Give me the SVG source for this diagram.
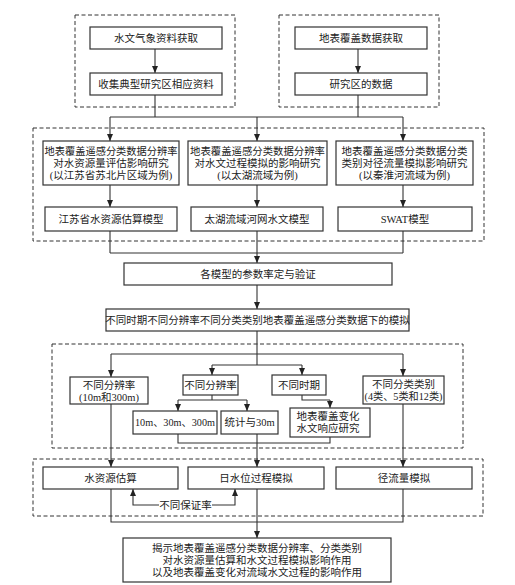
<svg xmlns="http://www.w3.org/2000/svg" width="515" height="585" viewBox="0 0 515 585">
<style>
.bg{fill:#fff}
.grp{fill:none;stroke:#333;stroke-width:1;stroke-dasharray:4 2.5}
.box{fill:#fff;stroke:#333;stroke-width:1.2}
.ln{fill:none;stroke:#333;stroke-width:1.1}
.arr{marker-end:url(#ah)}
text{font-family:"Liberation Serif","Noto Sans CJK SC",serif;font-size:10.5px;fill:#222;text-anchor:middle}
</style>
<defs>
<marker id="ah" markerUnits="userSpaceOnUse" markerWidth="7" markerHeight="6" refX="7" refY="3" orient="auto">
<path d="M0,0 L7,3 L0,6 z" fill="#222"/>
</marker>
</defs>
<rect class="bg" x="0" y="0" width="515" height="585"/>

<g id="groups">
<rect class="grp" x="75" y="15" width="160" height="92"/>
<rect class="grp" x="279" y="15" width="160" height="92"/>
<rect class="grp" x="33" y="128" width="451" height="113"/>
<rect class="grp" x="52" y="344" width="411" height="104"/>
<rect class="grp" x="33" y="459" width="450" height="57"/>
</g>

<g id="connectors">
<path class="ln arr" d="M155,49 V73"/>
<path class="ln arr" d="M358,49 V73"/>
<path class="ln" d="M155,95 V117 M358,95 V117 M110,117 H403"/>
<path class="ln arr" d="M110,117 V141"/>
<path class="ln arr" d="M257,117 V141"/>
<path class="ln arr" d="M403,117 V141"/>
<path class="ln arr" d="M110,185 V207"/>
<path class="ln arr" d="M257,185 V207"/>
<path class="ln arr" d="M403,185 V207"/>
<path class="ln" d="M110,231 V253 M403,231 V253 M257,231 V253 M110,253 H403"/>
<path class="ln arr" d="M257,253 V263"/>
<path class="ln arr" d="M257,285 V309"/>
<path class="ln" d="M257,331 V365 M111,354 H403 M212,365 H302"/>
<path class="ln arr" d="M111,354 V377"/>
<path class="ln arr" d="M403,354 V376"/>
<path class="ln arr" d="M212,365 V375"/>
<path class="ln arr" d="M302,365 V375"/>
<path class="ln" d="M212,395 V400 M178,400 H247"/>
<path class="ln arr" d="M178,400 V411"/>
<path class="ln arr" d="M247,400 V411"/>
<path class="ln" d="M302,395 V400 H330"/>
<path class="ln arr" d="M330,400 V408"/>
<path class="ln" d="M178,434 V443 H330 V437"/>
<path class="ln arr" d="M257,434 V467"/>
<path class="ln arr" d="M111,404 V467"/>
<path class="ln arr" d="M403,404 V467"/>
<path class="ln arr" d="M159,505 H133 V489"/>
<path class="ln arr" d="M212,505 H235 V489"/>
<path class="ln" d="M111,489 V522 H403 V489"/>
<path class="ln arr" d="M257,489 V538"/>
</g>

<g id="n1"><rect class="box" x="90" y="27" width="132" height="22"/><text x="156" y="42">水文气象资料获取</text></g>
<g id="n2"><rect class="box" x="90" y="73" width="132" height="22"/><text x="156" y="88">收集典型研究区相应资料</text></g>
<g id="n3"><rect class="box" x="295" y="27" width="132" height="22"/><text x="361" y="42">地表覆盖数据获取</text></g>
<g id="n4"><rect class="box" x="295" y="73" width="132" height="22"/><text x="361" y="88">研究区的数据</text></g>

<g id="b1"><rect class="box" x="43" y="141" width="136" height="44"/>
<text x="111" y="155" textLength="133" lengthAdjust="spacingAndGlyphs">地表覆盖遥感分类数据分辨率</text>
<text x="111" y="167">对水资源量评估影响研究</text>
<text x="111" y="179">(以江苏省苏北片区域为例)</text></g>
<g id="b2"><rect class="box" x="188" y="141" width="139" height="44"/>
<text x="257.5" y="155" textLength="135" lengthAdjust="spacingAndGlyphs">地表覆盖遥感分类数据分辨率</text>
<text x="257.5" y="167">对水文过程模拟的影响研究</text>
<text x="257.5" y="179">(以太湖流域为例)</text></g>
<g id="b3"><rect class="box" x="336" y="141" width="137" height="44"/>
<text x="404.5" y="155">地表覆盖遥感分类数据分类</text>
<text x="404.5" y="167">类别对径流量模拟影响研究</text>
<text x="404.5" y="179">(以秦淮河流域为例)</text></g>

<g id="m1"><rect class="box" x="45" y="207" width="132" height="24"/><text x="111" y="223">江苏省水资源估算模型</text></g>
<g id="m2"><rect class="box" x="191" y="207" width="132" height="24"/><text x="257" y="223">太湖流域河网水文模型</text></g>
<g id="m3"><rect class="box" x="338" y="207" width="134" height="24"/><text x="405" y="223">SWAT模型</text></g>

<g id="p1"><rect class="box" x="124" y="263" width="268" height="22"/><text x="258" y="278">各模型的参数率定与验证</text></g>
<g id="p2"><rect class="box" x="106" y="309" width="303" height="22"/><text x="257.5" y="324">不同时期不同分辨率不同分类类别地表覆盖遥感分类数据下的模拟</text></g>

<g id="r1"><rect class="box" x="70" y="377" width="78" height="27"/>
<text x="109" y="388.5">不同分辨率</text><text x="109" y="400.5">(10m和300m)</text></g>
<g id="r2"><rect class="box" x="183" y="375" width="55" height="20"/><text x="210.5" y="389">不同分辨率</text></g>
<g id="r3"><rect class="box" x="272" y="375" width="54" height="20"/><text x="299" y="389">不同时期</text></g>
<g id="r4"><rect class="box" x="363" y="376" width="81" height="28"/>
<text x="403.5" y="388">不同分类类别</text><text x="403.5" y="400" textLength="78" lengthAdjust="spacingAndGlyphs">(4类、5类和12类)</text></g>
<g id="s1"><rect class="box" x="133" y="411" width="84" height="23"/><text x="175" y="426" textLength="80" lengthAdjust="spacingAndGlyphs">10m、30m、300m</text></g>
<g id="s2"><rect class="box" x="221" y="411" width="57" height="23"/><text x="249.5" y="426">统计与30m</text></g>
<g id="s3"><rect class="box" x="290" y="408" width="80" height="29"/>
<text x="328" y="420">地表覆盖变化</text><text x="328" y="432">水文响应研究</text></g>

<g id="t1"><rect class="box" x="43" y="467" width="135" height="22"/><text x="110.5" y="482">水资源估算</text></g>
<g id="t2"><rect class="box" x="188" y="467" width="136" height="22"/><text x="256" y="482">日水位过程模拟</text></g>
<g id="t3"><rect class="box" x="336" y="467" width="136" height="22"/><text x="404" y="482">径流量模拟</text></g>
<g id="lbl"><text x="185.5" y="509">不同保证率</text></g>

<g id="f1"><rect class="box" x="123" y="538" width="268" height="44"/>
<text x="257" y="552">揭示地表覆盖遥感分类数据分辨率、分类类别</text>
<text x="257" y="564">对水资源量估算和水文过程模拟影响作用</text>
<text x="257" y="576">以及地表覆盖变化对流域水文过程的影响作用</text></g>
</svg>
